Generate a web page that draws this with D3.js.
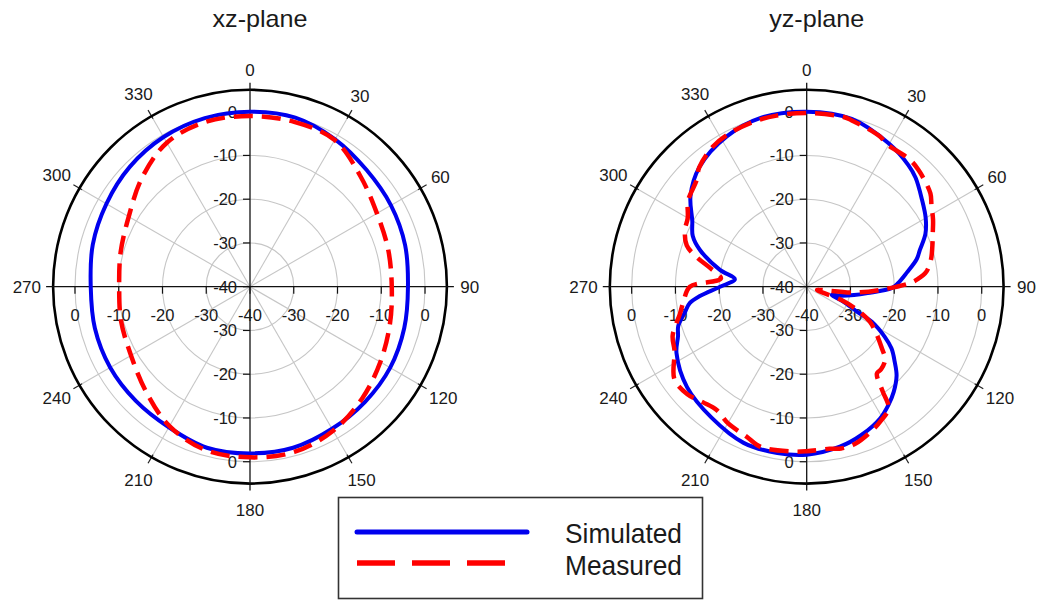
<!DOCTYPE html>
<html><head><meta charset="utf-8">
<script src="https://cdn.jsdelivr.net/npm/d3@7"></script>
<style>body{margin:0;background:#fff;} svg{display:block;font-family:"Liberation Sans",Arial,sans-serif;}</style>
</head><body><svg id="c" width="1039" height="601"></svg>
<script>
// ---------- data ----------
const angleTicks = [0,30,60,90,120,150,180,210,240,270,300,330];
const ringTicks = [-30,-20,-10,0];
const axisTicks = [-40,-30,-20,-10,0];
const titles = ["xz-plane","yz-plane"];
const seriesNames = ["Simulated","Measured"];

const xzAngles    = [0,15,30,45,60,75,90,105,120,135,150,165,180,195,210,225,240,255,270,285,300,315,330,345];
const xzSimulated = [0,0,-1.1,-2.3,-2.8,-3.3,-3.9,-3.5,-3.0,-2.8,-2.5,-1.9,-1.9,-1.9,-2.9,-3.1,-3.1,-3.3,-3.6,-2.8,-2.1,-1.2,-0.5,-0.1];
const xzMeasured  = [-1.0,-1.0,-1.3,-4.3,-6.5,-7.3,-7.6,-6.9,-5.6,-3.8,-2.0,-0.9,-1.0,-1.3,-3.2,-6.3,-8.6,-9.5,-10.1,-9.4,-8.0,-5.0,-2.0,-1.0];

const yzSimAngles = [0,15,30,40,45,53,60,66,72,76,82,88,91,96,100,105,108,112,116.5,118.3,122.7,126.1,130.4,134.7,140.4,145.2,151,159.6,168.3,180,190,202,216,230,243,249,253,258,262,265,270,276,281,289,294,300,308,318,332,345];
const yzSimulated = [0,-0.3,-2.3,-3.8,-4.8,-7.0,-8.6,-10.3,-12.8,-14.1,-16.9,-19.2,-20.6,-26,-29,-32,-34,-31,-27,-23.1,-18.8,-16,-13.6,-11.1,-8.8,-7.2,-5.5,-3.9,-2.65,-1.6,-1.4,-1.5,-3.0,-4.3,-6.6,-8.5,-9.3,-11.5,-13,-15.5,-20.2,-23.5,-19.8,-14.2,-11.5,-9.8,-6.3,-3.3,-1.1,0];

const yzMeasAngles = [0,12,15,26,29,39,44,53,57,62,67,72,78,83,86,88,92,97,104,108,111,115,119,124,129,133,138,141,144,146,151,156,163,168,172,180,185,196,202,210,216,222,228,235,244,250,258,264,270,275.5,281,285,289,295,300,306,314,318,326,333,342,350];
const yzMeasured   = [-0.3,-0.3,-0.6,-1.8,-2.6,-2.6,-3.1,-4.6,-6.0,-7.3,-8.7,-9.8,-11,-12.5,-14.5,-16.4,-22.5,-29,-37,-37.5,-31.5,-27,-23.5,-20.8,-18,-15.5,-14.6,-14.5,-10.5,-6.5,-5.0,-3.8,-2.4,-2.2,-2.6,-2.4,-2.2,-1.9,-3.1,-4.0,-5.1,-4.5,-3.3,-3.1,-6.4,-7.4,-10.4,-11.8,-13.3,-20.3,-17.5,-14,-11,-9.3,-8.6,-6.5,-5.0,-3.3,-1.5,-0.8,-0.4,-0.3];

// ---------- drawing ----------
const svg = d3.select('#c');
const rScale = d3.scaleLinear().domain([-40,5]).range([0,196.9]);
const R = rScale(5);
const rad = a => a*Math.PI/180;
const px = (a,rr) => Math.sin(rad(a))*rr;
const py = (a,rr) => -Math.cos(rad(a))*rr;
const textColor = "#1a1a1a";

function panel(cx, cy, title, sim, meas) {
  const g = svg.append('g').attr('transform', `translate(${cx},${cy})`);
  // rings
  g.selectAll('circle.ring').data(ringTicks).join('circle').attr('class','ring')
    .attr('r', d=>rScale(d)).attr('fill','none').attr('stroke','#c6c6c6').attr('stroke-width',1.1);
  // spokes
  const spokes = angleTicks.filter(a=>a%90!==0);
  g.selectAll('line.spoke').data(spokes).join('line').attr('class','spoke')
    .attr('x1',0).attr('y1',0).attr('x2',d=>px(d,R)).attr('y2',d=>py(d,R))
    .attr('stroke','#c6c6c6').attr('stroke-width',1.1);
  g.selectAll('line.atick').data(spokes).join('line').attr('class','atick')
    .attr('x1',d=>px(d,R-3)).attr('y1',d=>py(d,R-3)).attr('x2',d=>px(d,R+7)).attr('y2',d=>py(d,R+7))
    .attr('stroke','#222').attr('stroke-width',1.2);
  // outer circle
  g.append('circle').attr('r',R).attr('fill','none').attr('stroke','#000').attr('stroke-width',2.6);
  // axes
  g.append('line').attr('x1',0).attr('x2',0).attr('y1',-R-7).attr('y2',R+7).attr('stroke','#111').attr('stroke-width',1.3);
  g.append('line').attr('y1',0).attr('y2',0).attr('x1',-R-7).attr('x2',R+7).attr('stroke','#111').attr('stroke-width',1.3);

  // vertical axis ticks & labels
  const vTicks = axisTicks.map(v=>({v, y:-rScale(v)})).concat(axisTicks.filter(v=>v>-40).map(v=>({v, y:rScale(v)})));
  g.selectAll('line.vt').data(vTicks).join('line').attr('class','vt')
    .attr('x1',-7).attr('x2',0).attr('y1',d=>d.y).attr('y2',d=>d.y).attr('stroke','#111').attr('stroke-width',1.2);
  g.selectAll('text.vl').data(vTicks).join('text').attr('class','vl')
    .attr('x',-13).attr('y',d=>d.y).attr('dy','0.36em').attr('text-anchor','end')
    .attr('font-size',16.5).attr('fill',textColor).text(d=>d.v);
  // horizontal axis ticks & labels
  const hTicks = axisTicks.map(v=>({v, x:-rScale(v)})).concat(axisTicks.filter(v=>v>-40).map(v=>({v, x:rScale(v)})));
  g.selectAll('line.ht').data(hTicks).join('line').attr('class','ht')
    .attr('y1',0).attr('y2',7).attr('x1',d=>d.x).attr('x2',d=>d.x).attr('stroke','#111').attr('stroke-width',1.2);
  g.selectAll('text.hl').data(hTicks).join('text').attr('class','hl')
    .attr('x',d=>d.x).attr('y',34).attr('text-anchor','middle')
    .attr('font-size',16.5).attr('fill',textColor).text(d=>d.v);

  // angle labels
  g.selectAll('text.al').data(angleTicks).join('text').attr('class','al')
    .attr('x',d=>px(d, 213+3.4*String(d).length)).attr('y',d=>py(d, 213+3.4*String(d).length))
    .attr('dy','0.36em').attr('text-anchor','middle').attr('font-size',17).attr('fill',textColor).text(d=>d);

  // title
  svg.append('text').attr('x',cx+10).attr('y',27).attr('text-anchor','middle')
    .attr('font-size',24).attr('textLength',95).attr('lengthAdjust','spacingAndGlyphs')
    .attr('fill',textColor).text(title);

  const line = d3.lineRadial().angle(d=>rad(d[0])).radius(d=>rScale(d[1])).curve(d3.curveCatmullRomClosed.alpha(0.5));
  g.append('path').datum(sim).attr('d',line).attr('fill','none').attr('stroke','#0000ee').attr('stroke-width',4);
  g.append('path').datum(meas).attr('d',line).attr('fill','none').attr('stroke','#ff0000').attr('stroke-width',4.5)
    .attr('stroke-dasharray','19,9');
}

const zip = (a,b) => a.map((v,i)=>[v,b[i]]);
panel(250, 286.7, titles[0], zip(xzAngles,xzSimulated), zip(xzAngles,xzMeasured));
panel(806.7, 286.7, titles[1], zip(yzSimAngles,yzSimulated), zip(yzMeasAngles,yzMeasured));

// legend
const lg = svg.append('g');
lg.append('rect').attr('x',338.5).attr('y',497.5).attr('width',364).attr('height',101)
  .attr('fill','#fff').attr('stroke','#333').attr('stroke-width',1.6);
lg.append('line').attr('x1',357).attr('x2',527).attr('y1',532).attr('y2',532)
  .attr('stroke','#0000ee').attr('stroke-width',5).attr('stroke-linecap','round');
lg.append('line').attr('x1',357).attr('x2',507).attr('y1',563).attr('y2',563)
  .attr('stroke','#ff0000').attr('stroke-width',5.5).attr('stroke-dasharray','38,17');
lg.selectAll('text.lt').data(seriesNames).join('text').attr('class','lt')
  .attr('x',565).attr('y',(d,i)=>543+i*32).attr('font-size',28)
  .attr('textLength',117).attr('lengthAdjust','spacingAndGlyphs')
  .attr('fill',textColor).text(d=>d);
</script></body></html>
